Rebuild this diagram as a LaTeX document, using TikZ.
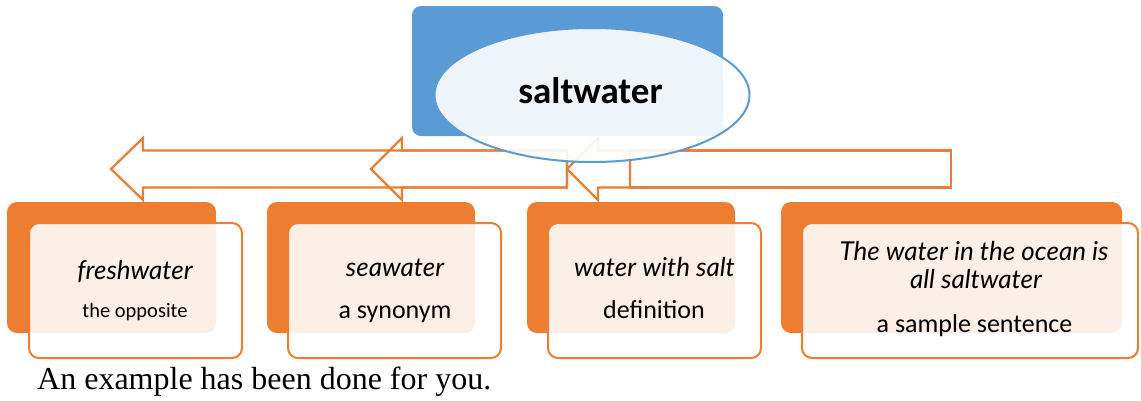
\documentclass[tikz,border=0pt]{standalone}
\usepackage{fontspec}
\setmainfont{Liberation Serif}
\newfontfamily\calib{Carlito}
\newfontfamily\hand{Lato}
\usetikzlibrary{shapes.geometric}
\definecolor{accent}{HTML}{ED7D31}
\definecolor{sky}{HTML}{5B9BD5}
\begin{document}
\begin{tikzpicture}[x=1pt,y=-1pt,
  backcard/.style={fill=accent, rounded corners=10pt, inner sep=0pt},
  frontcard/.style={draw=accent, line width=2pt, fill=white, fill opacity=0.88,
    rounded corners=10pt, inner sep=0pt},
  blockarrow/.style={draw=accent, line width=2.2pt, line join=miter},
  hw/.style={font=\hand\itshape\fontsize{26}{28}\selectfont, anchor=base, inner sep=0pt},
  lbl/.style={font=\calib\fontsize{26}{30}\selectfont, anchor=base, inner sep=0pt},
]
\useasboundingbox (0,0) rectangle (1141,400);

% title block
\node[fill=sky, rounded corners=9pt, minimum width=311pt, minimum height=130pt,
  inner sep=0pt] (titlebox) at (567.5,71) {};

% left-pointing block arrows
\draw[blockarrow] (111,169) -- (143,138) -- (143,150.5) -- (567,150.5)
  -- (567,187.5) -- (143,187.5) -- (143,200) -- cycle;
\draw[blockarrow] (371,169) -- (402,138) -- (402,150.5) -- (567,150.5)
  -- (567,187.5) -- (402,187.5) -- (402,200) -- cycle;
\draw[blockarrow] (567,169) -- (598,138) -- (598,150.5) -- (630,150.5)
  -- (630,187.5) -- (598,187.5) -- (598,200) -- cycle;
\draw[blockarrow] (630,150.5) rectangle (951,187.5);

% translucent ellipse with the word
\node[ellipse, draw=sky, line width=2pt, fill=white, fill opacity=0.9,
  minimum width=315pt, minimum height=134pt, inner sep=0pt] (oval) at (592,95) {};
\node[font=\calib\bfseries\fontsize{37}{40}\selectfont, anchor=base, inner sep=0pt]
  (word) at (590.5,103) {saltwater};

% cards
\node[backcard, minimum width=209pt, minimum height=131pt] (b1) at (111.5,267.5) {};
\node[frontcard, minimum width=213pt, minimum height=135pt] (f1) at (135.5,290.5) {};
\node[backcard, minimum width=208pt, minimum height=131pt] (b2) at (371,267.5) {};
\node[frontcard, minimum width=213pt, minimum height=135pt] (f2) at (394.5,290.5) {};
\node[backcard, minimum width=208pt, minimum height=131pt] (b3) at (631,267.5) {};
\node[frontcard, minimum width=213pt, minimum height=135pt] (f3) at (654.5,290.5) {};
\node[backcard, minimum width=341pt, minimum height=131pt] (b4) at (951.5,267.5) {};
\node[frontcard, minimum width=336pt, minimum height=135pt] (f4) at (970,290.5) {};

% card texts
\node[hw] (w1) at (135,279) {freshwater};
\node[lbl, font=\calib\fontsize{20.5}{24}\selectfont] (l1) at (135,317) {the opposite};
\node[hw] (w2) at (395,276) {seawater};
\node[lbl] (l2) at (395,318) {a synonym};
\node[hw] (w3) at (654.5,276) {water with salt};
\node[lbl] (l3) at (654,318) {definition};
\node[hw] (w4a) at (974,260) {The water in the ocean is};
\node[hw] (w4b) at (976,288) {all saltwater};
\node[lbl] (l4) at (974.5,332) {a sample sentence};

% note below
\node[anchor=base west, inner sep=0pt, font=\fontsize{32}{36}\selectfont]
  (note) at (37,389) {An example has been done for you.};
\end{tikzpicture}
\end{document}
